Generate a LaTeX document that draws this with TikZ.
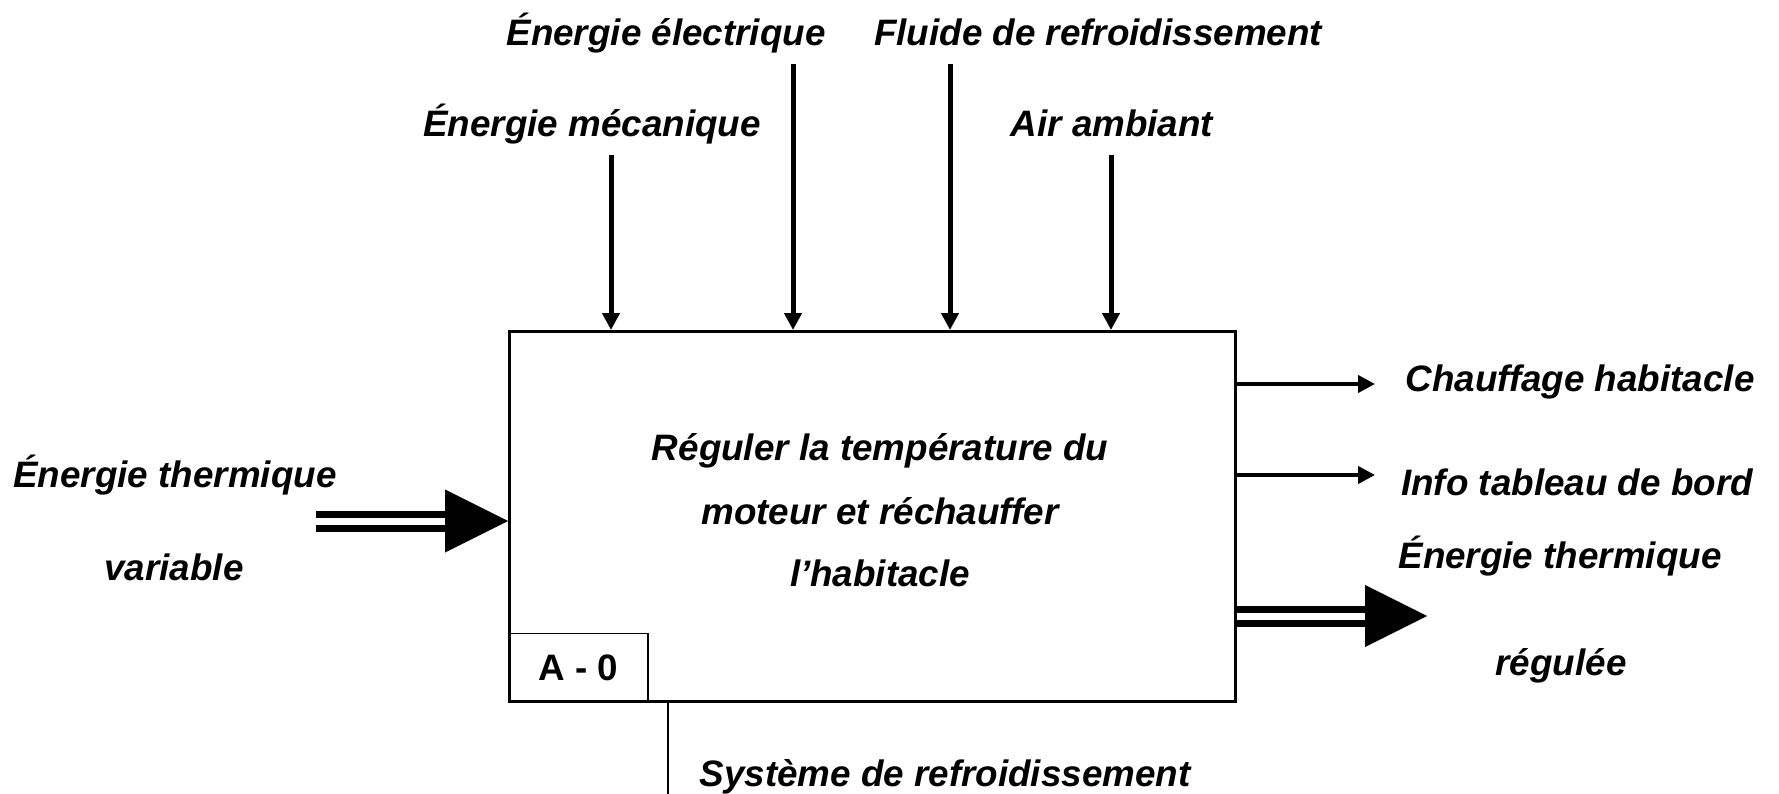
\documentclass[tikz,border=0pt]{standalone}
\usepackage{fontspec}
\setmainfont{Liberation Sans}
\usetikzlibrary{arrows.meta}
\tikzset{
  lbl/.style={anchor=base, inner sep=0pt, font=\fontsize{36.8}{44}\selectfont\bfseries\itshape},
  downarrow/.style={line width=5pt, -{Triangle[width=17pt,length=17pt]}},
  outarrow/.style={line width=4pt, -{Triangle[width=17pt,length=17pt]}},
  dblline/.style={line width=7pt, double distance=7pt, double=white},
}
\begin{document}
\begin{tikzpicture}[x=1pt,y=-1pt]
\useasboundingbox (0,0) rectangle (1779,794);
% main box
\node[draw, line width=3pt, minimum width=726pt, minimum height=370pt, inner sep=0pt, anchor=north west] (box) at (508,330) {};
% A-0 box
\node[draw, line width=1.5pt, minimum width=139pt, minimum height=69pt, inner sep=0pt, anchor=south west,
      font=\fontsize{36.8}{44}\selectfont\bfseries] (a0) at (box.south west) {A - 0};
% top labels
\node[lbl] (lElec) at (666,46) {Énergie électrique};
\node[lbl] (lFluide) at (1098,46) {Fluide de refroidissement};
\node[lbl] (lMeca) at (592,137) {Énergie mécanique};
\node[lbl] (lAir) at (1112,137) {Air ambiant};
% top arrows
\coordinate (cMeca) at (611,155);
\coordinate (cElec) at (793,64);
\coordinate (cFluide) at (950,64);
\coordinate (cAir) at (1111,155);
\draw[downarrow] (cMeca) -- (cMeca |- box.north);
\draw[downarrow] (cElec) -- (cElec |- box.north);
\draw[downarrow] (cFluide) -- (cFluide |- box.north);
\draw[downarrow] (cAir) -- (cAir |- box.north);
% centre text
\node[lbl] (t1) at (880,460) {Réguler la température du};
\node[lbl] (t2) at (880,524) {moteur et réchauffer};
\node[lbl] (t3) at (880,586) {l’habitacle};
% left input
\node[lbl] (lTh1) at (175,487) {Énergie thermique};
\node[lbl] (lTh2) at (174,580) {variable};
\coordinate (inStart) at (316,521);
\coordinate (inTip) at (box.west |- inStart);
\draw[dblline] (inStart) -- ([xshift=-60pt]inTip);
\fill (inTip) -- ++(-63,31.5) -- ++(0,-63) -- cycle;
% right outputs
\coordinate (oChauf) at (1375,384);
\coordinate (oInfo) at (1375,475);
\draw[outarrow] (oChauf -| box.east) -- (oChauf);
\draw[outarrow] (oInfo -| box.east) -- (oInfo);
\node[lbl] (lChauf) at (1580,391) {Chauffage habitacle};
\node[lbl] (lInfo) at (1577,495) {Info tableau de bord};
\node[lbl] (lOut1) at (1560,568) {Énergie thermique};
\node[lbl] (lOut2) at (1561,675) {régulée};
\coordinate (outTip) at (1427,616);
\draw[dblline] (outTip -| box.east) -- ([xshift=-60pt]outTip);
\fill (outTip) -- ++(-62,31) -- ++(0,-62) -- cycle;
% bottom mechanism
\coordinate (stubEnd) at (668,794);
\draw[line width=2pt] (stubEnd |- box.south) -- (stubEnd);
\node[lbl] (lSys) at (945,786) {Système de refroidissement};
\end{tikzpicture}
\end{document}
